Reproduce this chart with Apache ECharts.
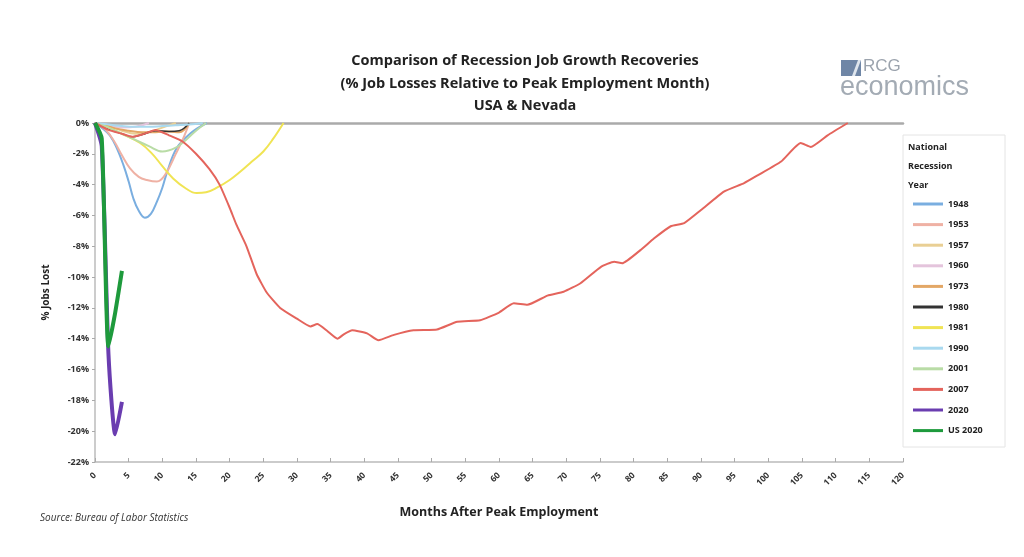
<!DOCTYPE html>
<html>
<head>
<meta charset="utf-8">
<script src="https://cdn.jsdelivr.net/npm/echarts@6/dist/echarts.min.js"></script>
<style>html,body{margin:0;padding:0;background:#fff}#c{width:1024px;height:557px}</style>
</head>
<body>
<div id="c"></div>
<script>
// ---- Data (months after peak, % change vs peak) ----
const yTicks = ['0%','-2%','-4%','-6%','-8%','-10%','-12%','-14%','-16%','-18%','-20%','-22%'];
const seriesNames = ['1948','1953','1957','1960','1973','1980','1981','1990','2001','2007','2020','US 2020'];
const seriesColors = ['#7aaee0','#efb1a4','#e9cf94','#e4c4dc','#e3a766','#333333','#f0e454','#a9d9ef','#b9dca6','#e4645c','#6a3db0','#1e9a3c'];

const d1948 = [[0,0],[1,-0.3],[2.2,-0.8],[3.2,-1.6],[4.2,-2.7],[5,-3.8],[5.7,-4.9],[6.5,-5.7],[7.4,-6.15],[8.3,-5.9],[9.2,-5.1],[10,-4.2],[10.7,-3.2],[12.1,-1.65],[14.1,-0.7],[16.6,0]];
const d1953 = [[0,0],[1.5,-0.4],[2.8,-1.15],[4,-2.1],[5.2,-2.95],[6.5,-3.5],[7.7,-3.7],[9.2,-3.8],[10.5,-3.3],[12,-2.0],[13.2,-0.9],[14,0]];
const d1957 = [[0,0],[2,-0.2],[4,-0.5],[6,-0.7],[8,-0.6],[10,-0.3],[12,0]];
const d1960 = [[0,0],[2,-0.15],[4,-0.3],[6,-0.25],[8,0]];
const d1973 = [[0,0],[1.5,-0.15],[3,-0.35],[5,-0.5],[7,-0.6],[9,-0.6],[11,-0.55],[12.5,-0.6],[14,0]];
const d1980 = [[0,0],[2,-0.4],[4,-0.7],[5.5,-0.9],[7,-0.75],[9,-0.5],[11,-0.55],[12.5,-0.5],[14,0]];
const d1981 = [[0,0],[2,-0.3],[4,-0.7],[6.7,-1.3],[8.5,-2.0],[10,-2.8],[11.6,-3.6],[13.5,-4.25],[15.1,-4.55],[16.5,-4.5],[18.1,-4.2],[20,-3.7],[21.6,-3.15],[23.3,-2.5],[25,-1.85],[26.5,-1.0],[28,0]];
const d1990 = [[0,0],[2,-0.1],[4,-0.2],[6,-0.25],[8,-0.25],[10,-0.2],[12,-0.15],[14,-0.1],[16,0]];
const d2001 = [[0,0],[2,-0.3],[4,-0.7],[6,-1.1],[8,-1.5],[10,-1.85],[12,-1.6],[13.5,-1.1],[15,-0.5],[16.5,0]];
const d2007 = [[0,0],[2,-0.45],[4,-0.7],[5.5,-0.9],[7,-0.75],[9,-0.45],[11,-0.8],[13,-1.2],[15,-2.0],[17,-3.0],[18.5,-4.0],[20,-5.5],[21,-6.6],[22.5,-8.0],[24,-9.8],[25.5,-11.0],[27.5,-12.0],[30,-12.7],[32,-13.2],[33,-13.05],[34.5,-13.5],[36,-14.0],[37,-13.7],[38.2,-13.45],[40.4,-13.65],[42.1,-14.1],[44.4,-13.75],[47.3,-13.45],[50.8,-13.4],[53.8,-12.9],[57.2,-12.8],[60,-12.3],[62.2,-11.7],[64.2,-11.8],[67.2,-11.2],[69.6,-10.95],[72.1,-10.4],[75.1,-9.35],[77.1,-9.0],[78.3,-9.1],[81,-8.25],[83,-7.5],[85.5,-6.7],[87.5,-6.5],[90,-5.65],[93.4,-4.45],[96.4,-3.9],[98.4,-3.4],[101.9,-2.5],[104.8,-1.3],[106.3,-1.55],[108.8,-0.8],[111.8,0]];
const d2020 = [[0,0],[1,-1.5],[2,-15.0],[3,-20.2],[4,-18.1]];
const dUS2020 = [[0,0],[1,-1.0],[2,-14.5],[3,-12.3],[4,-9.6]];

const allData = [d1948,d1953,d1957,d1960,d1973,d1980,d1981,d1990,d2001,d2007,d2020,dUS2020];

const chart = echarts.init(document.getElementById('c'));
const widths = [2,2,2,2,2,1.5,2,2,2,2,4,4];
const smooths = [0.4,0.4,0.4,0.4,0.4,0.4,0.4,0.4,0.4,0.15,0.2,0.2];

const series = seriesNames.map((n,i)=>({
  name: n, type: 'line', data: allData[i], xAxisIndex: 0,
  showSymbol: false, symbol: 'none', smooth: smooths[i],
  lineStyle: {color: seriesColors[i], width: widths[i]},
  itemStyle: {color: seriesColors[i]},
  z: i===9?4:(i>=10?5:3)
}));

const font = 'Open Sans';
chart.setOption({
  animation: false,
  textStyle: {fontFamily: font},
  title: {
    text: 'Comparison of Recession Job Growth Recoveries\n(% Job Losses Relative to Peak Employment Month)\nUSA & Nevada',
    left: 520, top: 45, textAlign: 'center',
    textStyle: {fontFamily: font, fontWeight: 'bold', fontSize: 14.5, lineHeight: 22.5, color: '#222'}
  },
  grid: {left: 95, right: 121, top: 123, bottom: 95},
  legend: {
    orient: 'vertical', left: 908, top: 193,
    icon: 'rect', itemWidth: 30, itemHeight: 3, itemGap: 8.6,
    textStyle: {fontFamily: font, fontWeight: 'bold', fontSize: 9, lineHeight: 12, color: '#222'},
    data: seriesNames
  },
  xAxis: [{
    type: 'value', min: 0, max: 120, interval: 5, position: 'bottom',
    name: 'Months After Peak Employment', nameLocation: 'middle', nameGap: 44,
    nameTextStyle: {fontFamily: font, fontWeight: 'bold', fontSize: 12.5, color: '#222'},
    axisLine: {onZero: false, lineStyle: {color: '#bbbbbb', width: 1.5}},
    axisTick: {inside: true, length: 4, lineStyle: {color: '#aaaaaa'}},
    axisLabel: {rotate: 45, fontSize: 8.5, fontWeight: 'bold', color: '#333', margin: 12},
    splitLine: {show: false}
  },{
    type: 'value', min: 0, max: 120, position: 'top',
    axisLine: {show: true, onZero: false, lineStyle: {color: '#aaaaaa', width: 2.5}},
    axisTick: {show: false}, axisLabel: {show: false}, splitLine: {show: false}
  }],
  yAxis: {
    type: 'value', min: -22, max: 0, interval: 2,
    name: '% Jobs Lost', nameLocation: 'middle', nameGap: 44, nameRotate: 90,
    nameTextStyle: {fontFamily: font, fontWeight: 'bold', fontSize: 10, color: '#222'},
    axisLine: {show: true, lineStyle: {color: '#bbbbbb', width: 1.5}},
    axisTick: {show: true, length: 3, lineStyle: {color: '#aaaaaa'}},
    axisLabel: {fontSize: 9, fontWeight: 'bold', color: '#333', margin: 6,
      formatter: v => yTicks[Math.round(-v/2)]},
    splitLine: {show: false}
  },
  graphic: [
    {type: 'rect', shape: {x: 903, y: 135, width: 102, height: 312}, style: {fill: 'none', stroke: '#e4e4e4', lineWidth: 1}},
    {type: 'text', left: 908, top: 138, style: {text: 'National\nRecession\nYear', fontFamily: font, fontWeight: 'bold', fontSize: 9, lineHeight: 19, fill: '#222'}},
    {type: 'text', left: 40, top: 513, style: {text: 'Source: Bureau of Labor Statistics', fontFamily: font, fontStyle: 'italic', fontSize: 10, fill: '#333'}},
    {type: 'rect', shape: {x: 841, y: 60, width: 20, height: 16}, style: {fill: '#6f86a6'}},
    {type: 'polygon', shape: {points: [[852,76],[858,60],[861,60],[855,76]]}, style: {fill: '#dfe6ee'}},
    {type: 'text', left: 863, top: 58, style: {text: 'RCG', fontFamily: 'Liberation Sans', fontSize: 17, fill: '#9ba3ad'}},
    {type: 'text', left: 840, top: 74, style: {text: 'economics', fontFamily: 'Liberation Sans', fontSize: 27, fill: '#a3abb4'}}
  ],
  series: series
});
</script>
</body>
</html>
